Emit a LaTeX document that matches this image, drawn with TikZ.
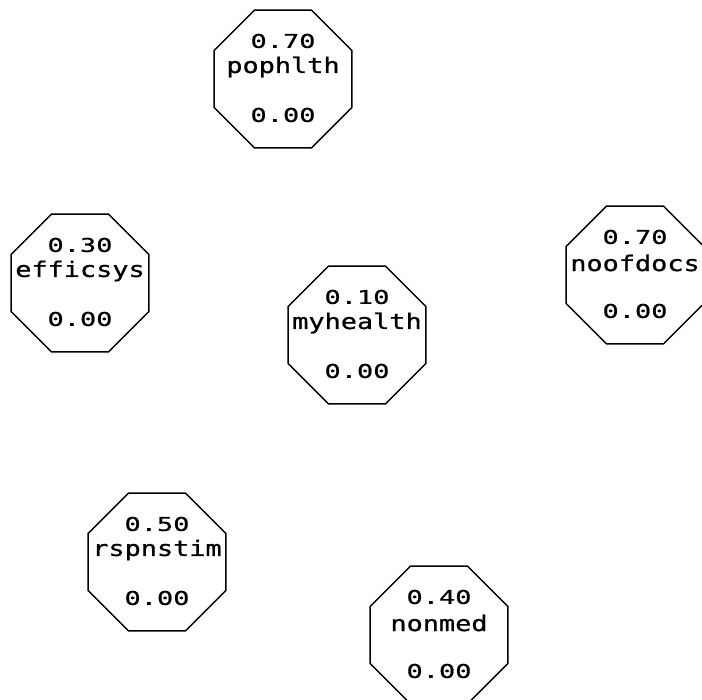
\documentclass[tikz,border=0pt]{standalone}
\usepackage{fontspec}
\newfontfamily\numfont[FakeStretch=1.42,FakeBold=0.8]{DejaVu Sans Mono}
\newfontfamily\labfont[FakeStretch=1.25,FakeBold=0.8]{DejaVu Sans Mono}
\usetikzlibrary{shapes.geometric}
\tikzset{
  octbox/.style={draw, line width=1.4pt, regular polygon, regular polygon sides=8,
    minimum size=149pt, inner sep=0pt},
  numtxt/.style={font=\numfont\fontsize{19}{19}\selectfont, inner sep=0pt, anchor=center},
  labtxt/.style={font=\labfont\fontsize{21.5}{21.5}\selectfont, inner sep=0pt, anchor=center}
}
\newcommand\octnode[5]{%
  \node[octbox] (#1) at (#2,#3) {};
  \node[numtxt] (#1-p) at (#2,#3-38) {#4};
  \node[labtxt] (#1-n) at (#2,#3-12) {#5};
  \node[numtxt] (#1-v) at (#2,#3+36) {0.00};
}
\begin{document}
\begin{tikzpicture}[x=1pt,y=-1pt]
\useasboundingbox[fill=white] (0,0) rectangle (702,700);
\octnode{pophlth}{283}{79}{0.70}{pophlth}
\octnode{efficsys}{80}{283}{0.30}{efficsys}
\octnode{myhealth}{357}{335}{0.10}{myhealth}
\octnode{noofdocs}{635}{275}{0.70}{noofdocs}
\octnode{rspnstim}{157}{562}{0.50}{rspnstim}
\octnode{nonmed}{439}{635}{0.40}{nonmed}
\end{tikzpicture}
\end{document}
